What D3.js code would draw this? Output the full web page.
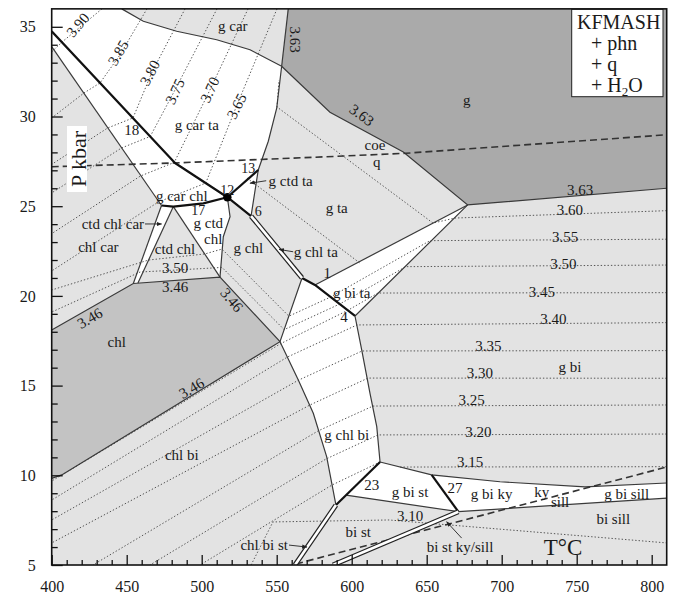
<!DOCTYPE html>
<html>
<head>
<meta charset="utf-8">
<script src="https://cdn.jsdelivr.net/npm/d3@7"></script>
<style>
  body { margin: 0; background: #fff; }
  svg { display: block; }
  text { font-family: "Liberation Serif", "Times New Roman", serif; fill: #1a1a1a; }
</style>
</head>
<body>
<div id="chart"></div>
<script>
// axes
const tDomain = [400, 810];
const pDomain = [5, 36];
const xTicks = [400, 450, 500, 550, 600, 650, 700, 750, 800];
const yTicks = [5, 10, 15, 20, 25, 30, 35];

// shaded fields, [T C, P kbar]
const gField = [[557.7,36],[810,36],[810,26.0],[677.3,25.07],[634.4,28.02],[585.5,30.24],[553.3,32.8]];
const chlField = [[400,18.1],[454.4,20.69],[512.2,21.05],[552.2,17.45],[406.7,10.02],[400,9.83]];

const whiteFields = [
  // g car ta / g car chl / g ctd ta
  [[400,36],[446.7,36],[461.1,35.31],[483.3,34.75],[510,34.28],[532.2,33.72],[553.3,32.8],[550,30.47],[544.4,28.62],[537.7,27.02],[532.9,24.45],[517.1,25.5],[501.1,25.16],[481.1,24.98],[473.2,25.04],[400,33.9]],
  // g ctd chl
  [[481.1,24.98],[501.1,25.16],[517.1,25.5],[518.9,24.41],[514.4,23.30],[512.2,21.05]],
  // ctd chl car
  [[473.2,25.04],[481.1,24.98],[457.5,20.72],[454.4,20.69]],
  // g bi ta
  [[677.3,25.07],[575.5,20.61],[602.2,18.88]],
  // g chl bi
  [[566.9,21.0],[575.5,20.61],[602.2,18.88],[606.7,16.98],[612.2,14.57],[616.7,12.71],[618.9,10.74],[589.5,8.34],[583.3,11.04],[574.4,13.46],[564.4,15.31],[552.2,17.45]],
  // g bi st
  [[618.9,10.74],[653.3,10.02],[671.1,7.97],[596.2,8.90]],
  // g bi ky / g bi sill
  [[653.3,10.02],[698.9,9.64],[755.5,9.36],[810,9.57],[810,8.73],[671.1,7.97]]
];

const thinLines = [
  [[400,33.9],[473.2,25.04]],
  [[446.7,36],[461.1,35.31],[483.3,34.75],[510,34.28],[532.2,33.72],[553.3,32.8]],
  [[557.7,36],[553.3,32.8]],
  [[553.3,32.8],[585.5,30.24],[634.4,28.02],[677.3,25.07],[810,26.0]],
  [[553.3,32.8],[550,30.47],[544.4,28.62],[537.7,27.02],[532.9,24.45]],
  [[677.3,25.07],[575.5,20.61]],
  [[677.3,25.07],[602.2,18.88],[606.7,16.98],[612.2,14.57],[616.7,12.71],[618.9,10.74]],
  [[473.2,25.04],[454.4,20.69]],
  [[481.1,24.98],[457.5,20.72]],
  [[481.1,24.98],[512.2,21.05]],
  [[517.1,25.5],[518.9,24.41],[514.4,23.30],[512.2,21.05]],
  [[400,18.1],[454.4,20.69],[512.2,21.05],[552.2,17.45],[406.7,10.02],[400,9.83]],
  [[566.9,21.0],[552.2,17.45],[564.4,15.31],[574.4,13.46],[583.3,11.04],[589.5,8.34]],
  [[618.9,10.74],[653.3,10.02],[698.9,9.64],[755.5,9.36],[810,9.57]],
  [[596.2,8.90],[671.1,7.97],[810,8.73]]
];

const thickLines = [
  [[400,34.75],[482.2,27.41],[517.1,25.5],[532.9,24.45]],
  [[517.1,25.5],[537.7,27.02]],
  [[473.2,25.04],[481.1,24.98],[501.1,25.16],[517.1,25.5]],
  [[566.9,21.0],[575.5,20.61],[602.2,18.88]],
  [[618.9,10.74],[589.5,8.34]],
  [[653.3,10.02],[671.1,7.97]]
];

const strips = [
  [[532.9,24.45],[566.9,21.0]],
  [[589.5,8.34],[562.2,5]],
  [[671.1,7.97],[587.5,5]]
];

const dashedLines = [
  [[400,27.2],[482,27.41],[590,27.78],[636,27.95],[810,28.98]],
  [[562.9,5.06],[810,10.46]]
];

const invariantPoint = [517.1, 25.5];

// phengite Si isopleths
const isopleths = [
  { v: 3.90, pts: [[433.5,36],[406.9,34.15],[400,33.6]] },
  { v: 3.85, pts: [[463.5,36],[445.5,33.43],[432.2,31.87],[421.5,31.31],[400,29.92]] },
  { v: 3.80, pts: [[488.9,36],[466.9,32.48],[454.2,29.92],[437.3,29.36],[400,27.33]] },
  { v: 3.75, pts: [[510.2,36],[482.2,31.48],[465.7,28.89],[446.4,28.24],[400,25.74]] },
  { v: 3.70, pts: [[530.9,36],[505.5,31.48],[481.7,27.44],[459.1,26.68],[400,23.47]] },
  { v: 3.65, pts: [[550.2,36],[523.5,30.64],[502.7,26.29],[471.0,25.23],[400,21.39]] },
  { v: 3.60, pts: [[810,24.75],[668.9,24.34],[654.2,24.06],[550.2,30.53],[551.5,32.03]] },
  { v: 3.55, pts: [[810,23.16],[652.2,23.08],[585.5,19.92],[558.1,18.87],[513.5,22.61],[502.2,22.34],[464.6,22.0],[400,20.33]] },
  { v: 3.55, pts: [[530.2,26.57],[605.5,21.83]] },
  { v: 3.50, pts: [[810,21.72],[636.1,21.63],[592.1,19.55],[555,18.12],[513.5,21.59],[508.2,21.56],[458.9,21.33],[400,19.1]] },
  { v: 3.45, pts: [[810,20.18],[617.5,20.16],[597.7,19.21],[552.9,17.35],[400,9.68]] },
  { v: 3.40, pts: [[810,18.51],[603.5,18.38],[557.1,16.59],[400,8.62]] },
  { v: 3.35, pts: [[810,16.95],[606.9,16.93],[564.2,15.29],[400,7.51]] },
  { v: 3.30, pts: [[810,15.41],[610.9,15.42],[572.2,13.92],[400,6.23]] },
  { v: 3.25, pts: [[810,13.92],[614.2,13.86],[577.5,12.47],[427.5,5]] },
  { v: 3.20, pts: [[810,12.3],[617.5,12.25],[582.9,10.91],[465.5,5]] },
  { v: 3.15, pts: [[810,10.48],[632.2,10.46]] },
  { v: 3.15, pts: [[618.9,10.74],[586.9,9.46],[498.9,5]] },
  { v: 3.10, pts: [[532.9,5],[547.5,7.4],[624.9,7.51],[810,6.23]] }
];

// [text, T, P, rotation, anchor, size]
const labels = [
  ["3.90", 417.5, 35.1, -50], ["3.85", 444.4, 33.54, -60], ["3.80", 465.5, 32.43, -62],
  ["3.75", 482.2, 31.4, -65], ["3.70", 505.5, 31.49, -65], ["3.65", 523.3, 30.57, -63],
  ["g car ta", 496.7, 29.54], ["18", 453.3, 29.26], ["g car", 520.7, 35.03],
  ["3.63", 562.2, 34.28, 90], ["g", 676.7, 30.92], ["3.63", 606.7, 30.08, 36],
  ["coe", 615.5, 28.41], ["q", 616.7, 27.48], ["g ta", 590, 24.88],
  ["g chl ta", 561.3, 22.46, 0, "start"], ["1", 583.7, 21.26], ["g bi ta", 600, 20.15],
  ["4", 594.9, 18.84], ["g chl bi", 596.7, 12.25], ["13", 531.1, 27.11, 0, "middle", 14],
  ["12", 517.1, 25.9, 0, "middle", 14], ["6", 537.7, 24.69, 0, "middle", 14],
  ["g car chl", 486.7, 25.57], ["17", 497.7, 24.75, 0, "middle", 14], ["g ctd", 504.4, 24.08],
  ["chl", 507.7, 23.16], ["ctd chl", 482.2, 22.6], ["3.50", 482.2, 21.54],
  ["g chl", 531.1, 22.65], ["g ctd ta", 544.6, 26.42, 0, "start"],
  ["ctd chl car", 461.6, 24.01, 0, "end"], ["chl car", 431.1, 22.74],
  ["3.46", 482.2, 20.51], ["3.46", 425.5, 18.75, -30], ["chl", 443.3, 17.45],
  ["3.46", 493.3, 14.85, -30], ["3.46", 520, 19.77, 50], ["chl bi", 486.7, 11.13],
  ["chl bi st", 557.5, 6.115, 0, "end"],
  ["3.63", 752.2, 25.9], ["3.60", 745.5, 24.79], ["3.55", 742.2, 23.27], ["3.50", 741.1, 21.78],
  ["3.45", 726.7, 20.23], ["3.40", 734.4, 18.7], ["3.35", 691.1, 17.21], ["3.30", 685.5, 15.72],
  ["3.25", 680, 14.2], ["3.20", 684.4, 12.43], ["3.15", 678.9, 10.76], ["3.10", 638.9, 7.73],
  ["g bi", 745.5, 16.05], ["bi st ky/sill", 672.2, 6.02], ["bi sill", 774.4, 7.55],
  ["g bi sill", 783.3, 8.96], ["ky", 726.7, 9.09], ["sill", 738.9, 8.53], ["g bi ky", 693.3, 8.96],
  ["27", 668.9, 9.28], ["g bi st", 638.9, 9.09], ["23", 613.3, 9.46], ["bi st", 604.4, 6.86]
];

// leader lines [from, to]
const leaders = [
  [[543.0,26.42],[532.2,26.28]],
  [[462.2,24.01],[473.3,24.01]],
  [[561.0,22.46],[551.6,22.59]],
  [[558.2,6.11],[570.2,6.0]],
  [[673.3,6.5],[663.3,7.41]]
];

const width = 675;
const height = 598;

const x = d3.scaleLinear().domain(tDomain).range([51.7, 666.7]);
const y = d3.scaleLinear().domain(pDomain).range([565, 8.86]);

const svg = d3.select('#chart')
  .append('svg')
  .attr('width', width)
  .attr('height', height);

svg.append('defs').append('marker')
  .attr('id', 'arr')
  .attr('viewBox', '0 0 10 10')
  .attr('refX', 9).attr('refY', 5)
  .attr('markerWidth', 6).attr('markerHeight', 6)
  .attr('orient', 'auto')
  .append('path')
  .attr('d', 'M0,1 L10,5 L0,9 Z')
  .attr('fill', '#222');

svg.append('clipPath').attr('id', 'plot')
  .append('rect')
  .attr('x', x(400)).attr('y', y(36))
  .attr('width', x(810) - x(400)).attr('height', y(5) - y(36));

const line = d3.line().x(d => x(d[0])).y(d => y(d[1]));
const g = svg.append('g').attr('clip-path', 'url(#plot)');

g.append('rect')
  .attr('x', x(400)).attr('y', y(36))
  .attr('width', x(810) - x(400)).attr('height', y(5) - y(36))
  .attr('fill', '#e3e3e3');

g.append('path').attr('d', line(gField) + 'Z').attr('fill', '#aaaaaa');
g.append('path').attr('d', line(chlField) + 'Z').attr('fill', '#c3c3c3');

g.selectAll('path.white')
  .data(whiteFields)
  .join('path')
    .attr('class', 'white')
    .attr('d', d => line(d) + 'Z')
    .attr('fill', '#fff');

g.selectAll('path.iso')
  .data(isopleths)
  .join('path')
    .attr('class', 'iso')
    .attr('d', d => line(d.pts))
    .attr('fill', 'none')
    .attr('stroke', '#555')
    .attr('stroke-width', 1)
    .attr('stroke-dasharray', '1.4,2');

g.selectAll('path.thin')
  .data(thinLines)
  .join('path')
    .attr('class', 'thin')
    .attr('d', line)
    .attr('fill', 'none')
    .attr('stroke', '#3a3a3a')
    .attr('stroke-width', 1.2);

g.selectAll('path.dash')
  .data(dashedLines)
  .join('path')
    .attr('class', 'dash')
    .attr('d', line)
    .attr('fill', 'none')
    .attr('stroke', '#333')
    .attr('stroke-width', 1.6)
    .attr('stroke-dasharray', '7,4');

g.selectAll('path.thick')
  .data(thickLines)
  .join('path')
    .attr('class', 'thick')
    .attr('d', line)
    .attr('fill', 'none')
    .attr('stroke', '#111')
    .attr('stroke-width', 2.2)
    .attr('stroke-linejoin', 'round');

g.selectAll('path.stripOut')
  .data(strips)
  .join('path')
    .attr('class', 'stripOut')
    .attr('d', line)
    .attr('stroke', '#222')
    .attr('stroke-width', 5);
g.selectAll('path.stripIn')
  .data(strips)
  .join('path')
    .attr('class', 'stripIn')
    .attr('d', line)
    .attr('stroke', '#fff')
    .attr('stroke-width', 2.6);

g.append('circle')
  .attr('cx', x(invariantPoint[0])).attr('cy', y(invariantPoint[1]))
  .attr('r', 4.2).attr('fill', '#000');

g.selectAll('path.lead')
  .data(leaders)
  .join('path')
    .attr('class', 'lead')
    .attr('d', line)
    .attr('stroke', '#222')
    .attr('stroke-width', 0.9)
    .attr('marker-end', 'url(#arr)');

g.selectAll('text.lab')
  .data(labels)
  .join('text')
    .attr('class', 'lab')
    .attr('transform', d => `translate(${x(d[1])},${y(d[2])}) rotate(${d[3] || 0})`)
    .attr('text-anchor', d => d[4] || 'middle')
    .attr('dominant-baseline', 'central')
    .attr('font-size', d => (d[5] || 15) + 'px')
    .text(d => d[0]);

// legend
const leg = svg.append('g');
leg.append('rect')
  .attr('x', 571.7).attr('y', 9.3).attr('width', 91.3).attr('height', 87.4)
  .attr('fill', '#fff').attr('stroke', '#222').attr('stroke-width', 1);
leg.append('text').attr('x', 577).attr('y', 29).attr('font-size', '20px').text('KFMASH');
leg.append('text').attr('x', 591).attr('y', 50).attr('font-size', '20px').text('+ phn');
leg.append('text').attr('x', 591).attr('y', 71).attr('font-size', '20px').text('+ q');
const h2o = leg.append('text').attr('x', 591).attr('y', 92).attr('font-size', '20px');
h2o.append('tspan').text('+ H');
h2o.append('tspan').attr('font-size', '13px').attr('dy', 4).text('2');
h2o.append('tspan').attr('dy', -4).text('O');

// axis titles
svg.append('rect').attr('x', 67).attr('y', 126).attr('width', 20).attr('height', 66).attr('fill', '#fff');
svg.append('text')
  .attr('transform', 'translate(78,159) rotate(-90)')
  .attr('text-anchor', 'middle').attr('dominant-baseline', 'central')
  .attr('font-size', '22px').text('P kbar');
svg.append('text')
  .attr('x', 563).attr('y', 547)
  .attr('text-anchor', 'middle').attr('dominant-baseline', 'central')
  .attr('font-size', '23px').text('T°C');

// frame and ticks
svg.append('rect')
  .attr('x', x(400)).attr('y', y(36))
  .attr('width', x(810) - x(400)).attr('height', y(5) - y(36))
  .attr('fill', 'none').attr('stroke', '#111').attr('stroke-width', 1.6);

const xAxis = d3.axisBottom(x).tickValues(xTicks).tickSize(-10).tickFormat(d => d);
const xMinor = d3.axisBottom(x).tickValues(d3.range(410, 810, 10).filter(v => v % 50)).tickSize(-5).tickFormat('');
const yAxis = d3.axisLeft(y).tickValues(yTicks).tickSize(-11).tickFormat(d => d);
const yMinor = d3.axisLeft(y).tickValues(d3.range(6, 36, 1).filter(v => v % 5)).tickSize(-6).tickFormat('');

function styleAxis(a) {
  a.select('.domain').remove();
  a.selectAll('line').attr('stroke', '#111').attr('stroke-width', 1.3);
  a.selectAll('text')
    .attr('font-family', '"Liberation Serif", serif')
    .attr('font-size', '16px')
    .attr('fill', '#1a1a1a');
}

svg.append('g').attr('transform', `translate(0,${y(5)})`).call(xAxis).call(styleAxis)
  .selectAll('text').attr('dy', null).attr('y', 27);
svg.append('g').attr('transform', `translate(0,${y(5)})`).call(xMinor).call(styleAxis);
svg.append('g').attr('transform', `translate(${x(400)},0)`).call(yAxis).call(styleAxis)
  .selectAll('text').attr('x', -16);
svg.append('g').attr('transform', `translate(${x(400)},0)`).call(yMinor).call(styleAxis);
</script>
</body>
</html>
